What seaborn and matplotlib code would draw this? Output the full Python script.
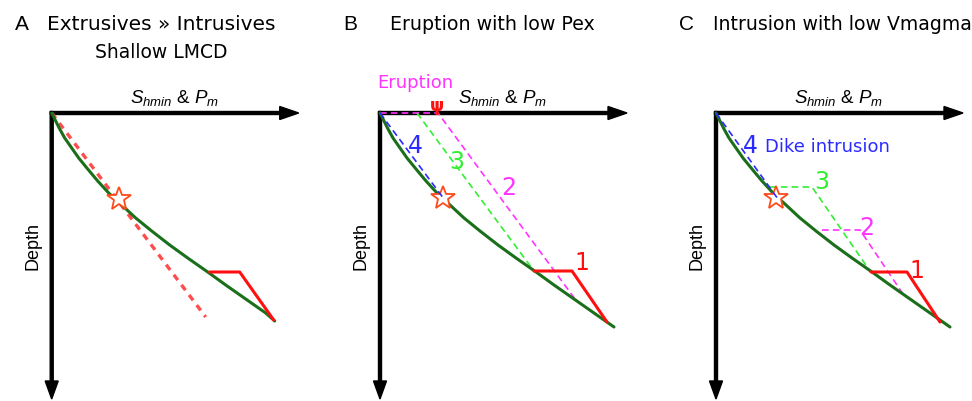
import numpy as np
import matplotlib
matplotlib.use("Agg")
import matplotlib.pyplot as plt
import seaborn as sns

# Schematic data, in panel-local units (x: stress, y: depth)
curve_x = [0, 4, 8, 13, 20, 27, 36, 46, 57, 70, 84, 100, 118, 136, 156, 174, 194, 214, 234]
curve_d = [0, 8, 16, 25, 35, 45, 56, 68, 80, 92, 105, 118, 132, 145, 159, 172, 186, 200, 214]
# panel A curve stops at the foot of the red path
curve_end_a_x = 223
curve_end_a_d = 208

panel_letters = ["A", "B", "C"]
panel_titles = ["Extrusives \u00bb Intrusives", "Eruption with low Pex", "Intrusion with low Vmagma"]
star_x = [67, 63, 60]
star_d = [86, 85, 85]

# red path "1" (solid)
red_x = [[158, 188, 222], [154, 192, 227], [155, 191, 224]]
red_d = [[159, 159, 207], [158, 158, 209], [159, 159, 209]]

# panel A: red dashed line
a_dash_x = [0, 154]
a_dash_d = [0, 204]

# panel B paths
b_mag_x = [0, 58, 195]
b_mag_d = [0, 0, 186]
b_grn_x = [37, 154]
b_grn_d = [0, 158]
b_blu_x = [0, 64]
b_blu_d = [0, 86]

# panel C paths
c_mag_x = [106, 144, 187]
c_mag_d = [117, 117, 181]
c_grn_x = [54, 96, 154]
c_grn_d = [74, 74, 158]
c_blu_x = [0, 62]
c_blu_d = [0, 86]

GREEN = "#1b6f1b"
RED = "#ff1010"
MAG = "#ff33ff"
LGRN = "#33ee33"
BLUE = "#2b2bff"

sns.set_style("white")
plt.rcParams["font.family"] = ["DejaVu Sans"]
plt.rcParams["text.color"] = "black"
plt.rcParams["mathtext.fontset"] = "custom"
plt.rcParams["mathtext.it"] = "Liberation Sans:italic"
plt.rcParams["mathtext.rm"] = "Liberation Sans"

fig = plt.figure(figsize=(9.72, 4.02), dpi=100)
origins = [51.7, 380, 716]


def path(ax, xs, ys, color, lw, ls="-", z=3):
    sns.lineplot(x=xs, y=ys, ax=ax, color=color, lw=lw, linestyle=ls,
                 sort=False, estimator=None, zorder=z, legend=False)


axes = []
for i, ox in enumerate(origins):
    ax = fig.add_axes([(ox - 51.7) / 972, 0, 308 / 972, 1])
    ax.set_xlim(-51.7, 256.3)
    ax.set_ylim(288, -114)
    ax.axis("off")
    axes.append(ax)

    # axes arrows
    ax.arrow(-1.5, 0, 248.5, 0, width=3, head_width=13, head_length=19,
             length_includes_head=True, fc="black", ec="black", zorder=2)
    ax.arrow(0, -1.5, 0, 287.5, width=3, head_width=13, head_length=18,
             length_includes_head=True, fc="black", ec="black", zorder=2)
    ax.text(123, -16, r"$S_{hmin}$ & $P_m$", ha="center", va="center",
            fontsize=13.5, family="Liberation Sans")
    ax.text(-19, 132, "Depth", rotation=90, ha="center", va="center",
            fontsize=13, family="Liberation Sans")

    # green curve
    if i == 0:
        path(ax, curve_x[:-1] + [curve_end_a_x], curve_d[:-1] + [curve_end_a_d],
             GREEN, 2.2, z=4)
    else:
        path(ax, curve_x, curve_d, GREEN, 2.2, z=4)
    # red solid path
    path(ax, red_x[i], red_d[i], RED, 2.2, z=5)

    ax.plot(star_x[i], star_d[i], marker="*", ms=18, mfc="white", mec="#ff4a1a",
            mew=1.3, zorder=6)

    ax.text(-30, -89, panel_letters[i], ha="center", va="center", fontsize=15,
            family="Liberation Sans")

ax_a, ax_b, ax_c = axes

# Panel A
ax_a.text(-5, -89, panel_titles[0], ha="left", va="center", fontsize=14.5)
ax_a.text(110, -61, "Shallow LMCD", ha="center", va="center", fontsize=13.5)
path(ax_a, a_dash_x, a_dash_d, "#ff4d4d", 2.4, ls=(0, (2, 1.8)), z=3)

# Panel B
ax_b.text(10, -89, panel_titles[1], ha="left", va="center", fontsize=13.7)
path(ax_b, b_mag_x, b_mag_d, MAG, 1.2, ls=(0, (4, 2.5)), z=3)
path(ax_b, b_grn_x, b_grn_d, LGRN, 1.2, ls=(0, (4, 2.5)), z=3)
path(ax_b, b_blu_x, b_blu_d, BLUE, 1.2, ls=(0, (4, 2.5)), z=7)
ax_b.text(35, -31, "Eruption", color=MAG, ha="center", va="center", fontsize=13)
ax_b.text(57, -8, "\u03c8", color=RED, ha="center", va="center", fontsize=13,
          fontweight="bold")
ax_b.text(35, 32, "4", color=BLUE, ha="center", va="center", fontsize=17)
ax_b.text(77, 48, "3", color=LGRN, ha="center", va="center", fontsize=17)
ax_b.text(129, 74, "2", color=MAG, ha="center", va="center", fontsize=17)
ax_b.text(202, 149, "1", color=RED, ha="center", va="center", fontsize=17)

# Panel C
ax_c.text(-3, -89, panel_titles[2], ha="left", va="center", fontsize=13.6)
path(ax_c, c_mag_x, c_mag_d, MAG, 1.2, ls=(0, (4, 2.5)), z=3)
path(ax_c, c_grn_x, c_grn_d, LGRN, 1.2, ls=(0, (4, 2.5)), z=3)
path(ax_c, c_blu_x, c_blu_d, BLUE, 1.2, ls=(0, (4, 2.5)), z=7)
ax_c.text(34, 32, "4", color=BLUE, ha="center", va="center", fontsize=17)
ax_c.text(49, 33, "Dike intrusion", color=BLUE, ha="left", va="center", fontsize=13)
ax_c.text(106, 68, "3", color=LGRN, ha="center", va="center", fontsize=17)
ax_c.text(151, 114, "2", color=MAG, ha="center", va="center", fontsize=17)
ax_c.text(201, 157, "1", color=RED, ha="center", va="center", fontsize=17)

fig.savefig("out.png", dpi=100)
